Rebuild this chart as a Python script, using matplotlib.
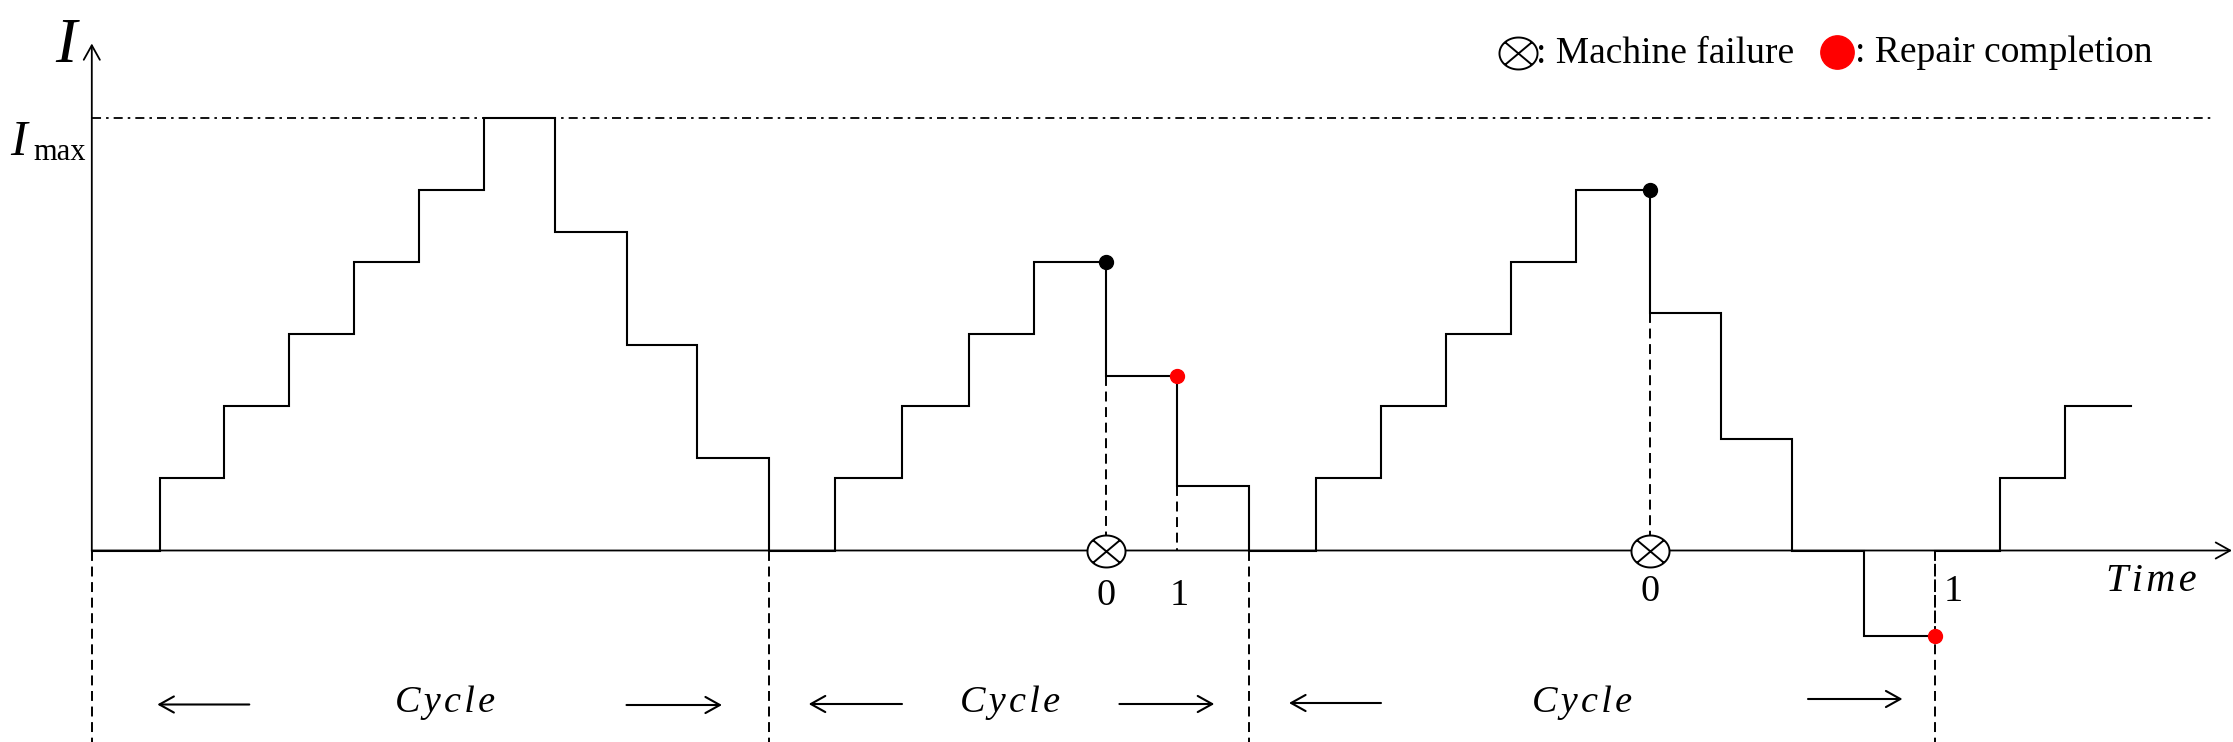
import matplotlib
matplotlib.use("Agg")
import matplotlib.pyplot as plt
from matplotlib.path import Path
import numpy as np

# ---------------- data ----------------
# times at which the inventory level changes, and the level held from each time to the next
change_times = [0, 1.05, 2.03, 3.03, 4.03, 5.03, 6.03, 7.12, 8.23, 9.31,
                10.42, 11.43, 12.47, 13.49, 14.50, 15.61, 16.70,
                17.80, 18.83, 19.84, 20.83, 21.84, 22.83, 23.97, 25.06, 26.15, 27.26,
                28.36, 29.35, 30.35, 31.37]
levels = [0, 1, 2, 3, 4, 5, 6, 4.42, 2.85, 1.29,
          0, 1, 2, 3, 4, 2.42, 0.90,
          0, 1, 2, 3, 4, 5, 3.30, 1.55, 0, -1.19,
          0, 1, 2]
I_max = 6

fail_times = [15.61, 23.97]
fail_levels_before = [4, 5]
fail_levels_after = [2.42, 3.30]
repair_times = [16.70, 28.36]
repair_levels_before = [2.42, -1.19]
repair_levels_after = [0.90, 0]
cycle_bounds = [0, 10.42, 17.80, 28.36]
cycle_label_centers = [5.43, 14.13, 22.93]

HS = "\u200a"  # hair space used as letter spacing
fail_label = "0"
repair_label = "1"
cycle_label = HS.join("Cycle")
time_label = HS.join("Time")
legend_fail = ": Machine failure"
legend_repair = ": Repair completion"

# ---------------- layout helpers ----------------
W, H = 2233, 742
X0, UX = 91.8, 65.0
Y0, UY = 550.5, 72.03


def px(x, y):
    return ((x - X0) / UX, (Y0 - y) / UY)


plt.rcParams["font.family"] = ["Liberation Serif", "DejaVu Serif"]

fig = plt.figure(figsize=(W / 100, H / 100), dpi=100)
ax = fig.add_axes([0, 0, 1, 1])
ax.set_axis_off()
ax.set_xlim(px(0, 0)[0], px(W, 0)[0])
ax.set_ylim(px(0, H)[1], px(0, 0)[1])

LW = 1.5
DASH = (0, (5.1, 2.9))
arrow_style = "->,head_length=0.52,head_width=0.29"

# ---- axes with arrows ----
t_end = px(2232, 0)[0]
y_top = px(0, 43.5)[1]
ax.annotate("", xy=(t_end, 0), xytext=(0, 0),
            arrowprops=dict(arrowstyle=arrow_style, mutation_scale=20, lw=1.3,
                            color="black", shrinkA=0, shrinkB=0))
ax.annotate("", xy=(0, y_top), xytext=(0, 0),
            arrowprops=dict(arrowstyle=arrow_style, mutation_scale=20, lw=1.3,
                            color="black", shrinkA=0, shrinkB=0))

# ---- I_max dash-dot line ----
ax.plot([0, px(2213, 0)[0]], [I_max, I_max], color="black", lw=1.3,
        linestyle=(0, (5.0, 2.8, 1.4, 2.8)))

# ---- inventory step path (split where the repair ends a cycle below zero) ----
splits = [0]
for cb in cycle_bounds[1:]:
    k = change_times.index(cb)
    if levels[k - 1] < 0:
        splits.append(k)
splits.append(len(levels))
for a, b in zip(splits[:-1], splits[1:]):
    xs = change_times[a:b + 1]
    ys = levels[a:b] + [levels[b - 1]]
    ax.step(xs, ys, where="post", color="black", lw=LW, solid_joinstyle="miter")

# ---- dashed guide lines ----
y_bottom = px(0, H)[1]
for cb in cycle_bounds:
    ax.plot([cb, cb], [0, y_bottom], color="black", lw=1.4, linestyle=DASH)
for t, lv in zip(fail_times, fail_levels_after):
    ax.plot([t, t], [lv, 0], color="black", lw=1.4, linestyle=DASH)
for t, lb, la in zip(repair_times, repair_levels_before, repair_levels_after):
    ax.plot([t, t], [la if la != 0 else lb, 0], color="black", lw=1.4,
            linestyle=DASH)

# ---- otimes marker ----
theta = np.linspace(0, 2 * np.pi, 120)
ry = 0.84
verts = list(np.column_stack([np.cos(theta), ry * np.sin(theta)]))
codes = [Path.MOVETO] + [Path.LINETO] * (len(verts) - 2) + [Path.CLOSEPOLY]
c, s = np.cos(np.pi / 4), ry * np.sin(np.pi / 4)
verts += [(c, s), (-c, -s), (-c, s), (c, -s)]
codes += [Path.MOVETO, Path.LINETO, Path.MOVETO, Path.LINETO]
otimes = Path(np.array(verts), codes)

ax.plot(fail_times, [0] * len(fail_times), linestyle="none", marker=otimes,
        markersize=27.4, markerfacecolor="white", markeredgecolor="black",
        markeredgewidth=1.4, zorder=5)
ax.plot(fail_times, fail_levels_before, linestyle="none", marker="o",
        markersize=10, color="black", zorder=6)
ax.plot(repair_times, repair_levels_before, linestyle="none", marker="o",
        markersize=10, color="red", zorder=6)

# ---- event labels ----
fail_label_y = [px(0, 605)[1], px(0, 601)[1]]
repair_label_dx = [0.03, 0.28]
repair_label_y = [px(0, 605)[1], px(0, 601)[1]]
for t, yy in zip(fail_times, fail_label_y):
    ax.text(t, yy, fail_label, fontsize=27.5, ha="center", va="baseline")
for t, dx, yy in zip(repair_times, repair_label_dx, repair_label_y):
    ax.text(t + dx, yy, repair_label, fontsize=27.5, ha="center", va="baseline")

# ---- axis labels ----
ax.text(*px(66, 62), "I", fontsize=46, style="italic", ha="center", va="baseline")
ax.text(*px(19, 155), "I", fontsize=36, style="italic", ha="center", va="baseline")
ax.text(*px(86, 159.5), "max", fontsize=22, ha="right", va="baseline")
ax.text(*px(2151, 591), time_label, fontsize=29, style="italic", ha="center",
        va="baseline")

# ---- cycle labels and arrows ----
cycle_y = px(0, 712)[1]
arrow_specs = [  # (tail_px, tip_px, y_px)
    (249.3, 157.3, 704.5), (626.5, 722.0, 705.0),
    (902.0, 808.7, 704.0), (1119.4, 1214.3, 704.0),
    (1381.0, 1289.0, 703.0), (1808.0, 1902.5, 699.0),
]
for cx in cycle_label_centers:
    ax.text(cx, cycle_y, cycle_label, fontsize=27.5, style="italic", ha="center",
            va="baseline")
for tail, tip, yp in arrow_specs:
    ax.annotate("", xy=px(tip, yp), xytext=px(tail, yp),
                arrowprops=dict(arrowstyle=arrow_style, mutation_scale=20, lw=1.5,
                                color="black", shrinkA=0, shrinkB=0))

# ---- legend ----
ax.plot(*px(1517.5, 52.5), marker=otimes, markersize=27.4, markerfacecolor="white",
        markeredgecolor="black", markeredgewidth=1.4, linestyle="none")
ax.text(*px(1536, 63), legend_fail, fontsize=27, ha="left", va="baseline")
ax.plot(*px(1836.7, 51.7), marker="o", markersize=24, color="red", linestyle="none")
ax.text(*px(1855, 62), legend_repair, fontsize=27, ha="left", va="baseline")

fig.savefig("out.png", dpi=100)
